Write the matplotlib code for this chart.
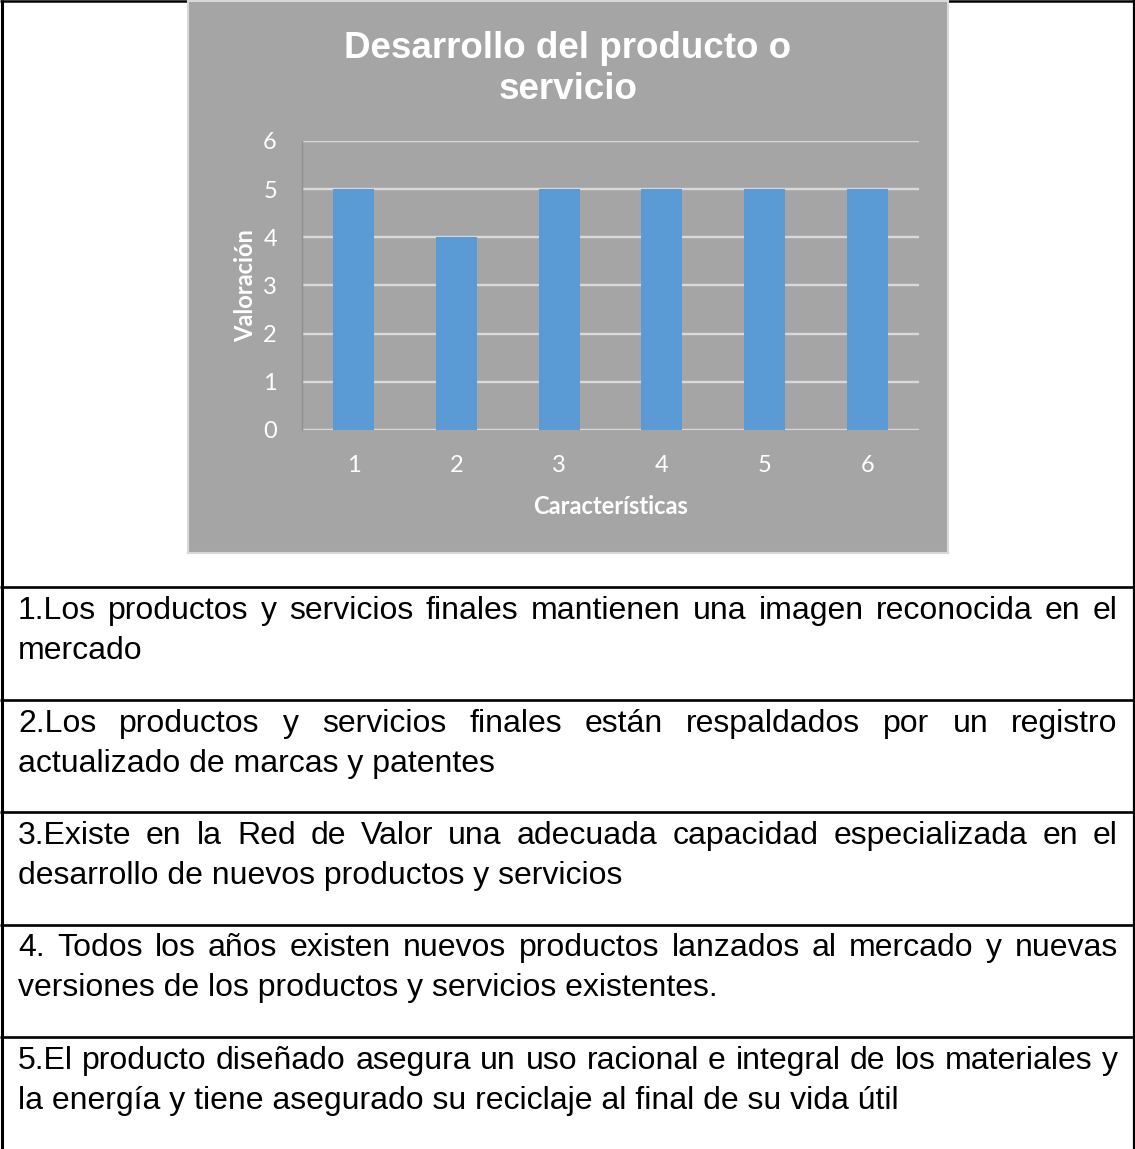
import matplotlib
matplotlib.use("Agg")
import matplotlib.pyplot as plt

# Valoración de cada característica del desarrollo del producto
caracteristicas = ["1", "2", "3", "4", "5", "6"]
valoracion = [5, 4, 5, 5, 5, 5]
y_ticks = [0, 1, 2, 3, 4, 5, 6]

titulo = "Desarrollo del producto o\nservicio"
eje_x = "Características"
eje_y = "Valoración"

# Texto de la tabla: cada fila en sus dos renglones
descripciones = [
    ("1.Los productos y servicios finales mantienen una imagen reconocida en el",
     "mercado"),
    ("2.Los productos y servicios finales están respaldados por un registro",
     "actualizado de marcas y patentes"),
    ("3.Existe en la Red de Valor una adecuada capacidad especializada en el",
     "desarrollo de nuevos productos y servicios"),
    ("4. Todos los años existen nuevos productos lanzados al mercado y nuevas",
     "versiones de los productos y servicios existentes."),
    ("5.El producto diseñado asegura un uso racional e integral de los materiales y",
     "la energía y tiene asegurado su reciclaje al final de su vida útil"),
]

W, H = 1135, 1149
DPI = 100
GRIS = "#a5a5a5"
AZUL = "#5b9bd5"
REJILLA = "#d9d9d9"
TXT_FONT = "Liberation Sans"
CHART_FONT = "Lato"

fig = plt.figure(figsize=(W / DPI, H / DPI), dpi=DPI)

# capa de fondo en pixeles para la tabla
bg = fig.add_axes([0, 0, 1, 1])
bg.set_xlim(0, W)
bg.set_ylim(H, 0)
bg.axis("off")

# bordes de la tabla
bg.plot([0, W], [0.8, 0.8], color="black", lw=1.8, solid_capstyle="butt")
bg.plot([1.5, 1.5], [0, H], color="black", lw=2.2, solid_capstyle="butt")
bg.plot([W - 1.5, W - 1.5], [0, H], color="black", lw=1.6, solid_capstyle="butt")
row_tops = [587, 699.5, 812, 924.5, 1037]
for y in row_tops:
    bg.plot([0, W], [y, y], color="black", lw=1.9, solid_capstyle="butt")


def px(x0, y0, x1, y1):
    return [x0 / W, 1 - y1 / H, (x1 - x0) / W, (y1 - y0) / H]


# recuadro gris del grafico
panel = fig.add_axes(px(188, 1, 948, 553))
panel.set_facecolor(GRIS)
panel.set_xticks([])
panel.set_yticks([])
for s in panel.spines.values():
    s.set_color(REJILLA)
    s.set_linewidth(1.5)
panel.text(0.5, (553 - 69) / 552, titulo, transform=panel.transAxes,
           ha="center", va="center", color="white", fontsize=26.5,
           fontweight="bold", family=TXT_FONT, linespacing=1.22)

ax = fig.add_axes(px(302, 141, 919, 430))
ax.set_facecolor("none")
x = list(range(1, len(caracteristicas) + 1))
ax.bar(x, valoracion, width=0.4, color=AZUL, zorder=3)
ax.set_xlim(0.5, len(caracteristicas) + 0.5)
ax.set_ylim(0, 6)
ax.set_yticks(y_ticks)
ax.set_xticks(x)
ax.set_xticklabels(caracteristicas)
ax.yaxis.grid(True, color=REJILLA, lw=1.7, zorder=1)
ax.set_axisbelow(True)
for side in ["top", "right", "bottom"]:
    ax.spines[side].set_visible(False)
ax.spines["left"].set_color("#8f8f8f")
ax.spines["left"].set_linewidth(1.0)
ax.tick_params(axis="both", length=0, colors="white", labelsize=17)
ax.tick_params(axis="y", pad=18)
ax.tick_params(axis="x", pad=18)
for lbl in ax.get_xticklabels() + ax.get_yticklabels():
    lbl.set_family(CHART_FONT)
ax.set_xlabel(eje_x, color="white", fontsize=17, fontweight="bold",
              family=CHART_FONT, labelpad=14)
ax.set_ylabel(eje_y, color="white", fontsize=17, fontweight="bold",
              family=CHART_FONT, labelpad=4)

# texto de la tabla: primer renglon justificado, segundo alineado a la izquierda
renderer = fig.canvas.get_renderer()
left, right = 18, 1118
fs = 23
for top, (linea1, linea2) in zip(row_tops, descripciones):
    words = linea1.split(" ")
    base = round(top + 32)
    objs = [bg.text(0, base, w, fontsize=fs, family=TXT_FONT,
                    va="baseline", ha="left") for w in words]
    widths = [o.get_window_extent(renderer).width for o in objs]
    gap = (right - left - sum(widths)) / (len(words) - 1)
    xpos = left
    for o, w in zip(objs, widths):
        o.set_x(round(xpos))
        xpos += w + gap
    bg.text(left, round(top + 72), linea2, fontsize=fs, family=TXT_FONT,
            va="baseline", ha="left")

fig.savefig("out.png", dpi=DPI)
